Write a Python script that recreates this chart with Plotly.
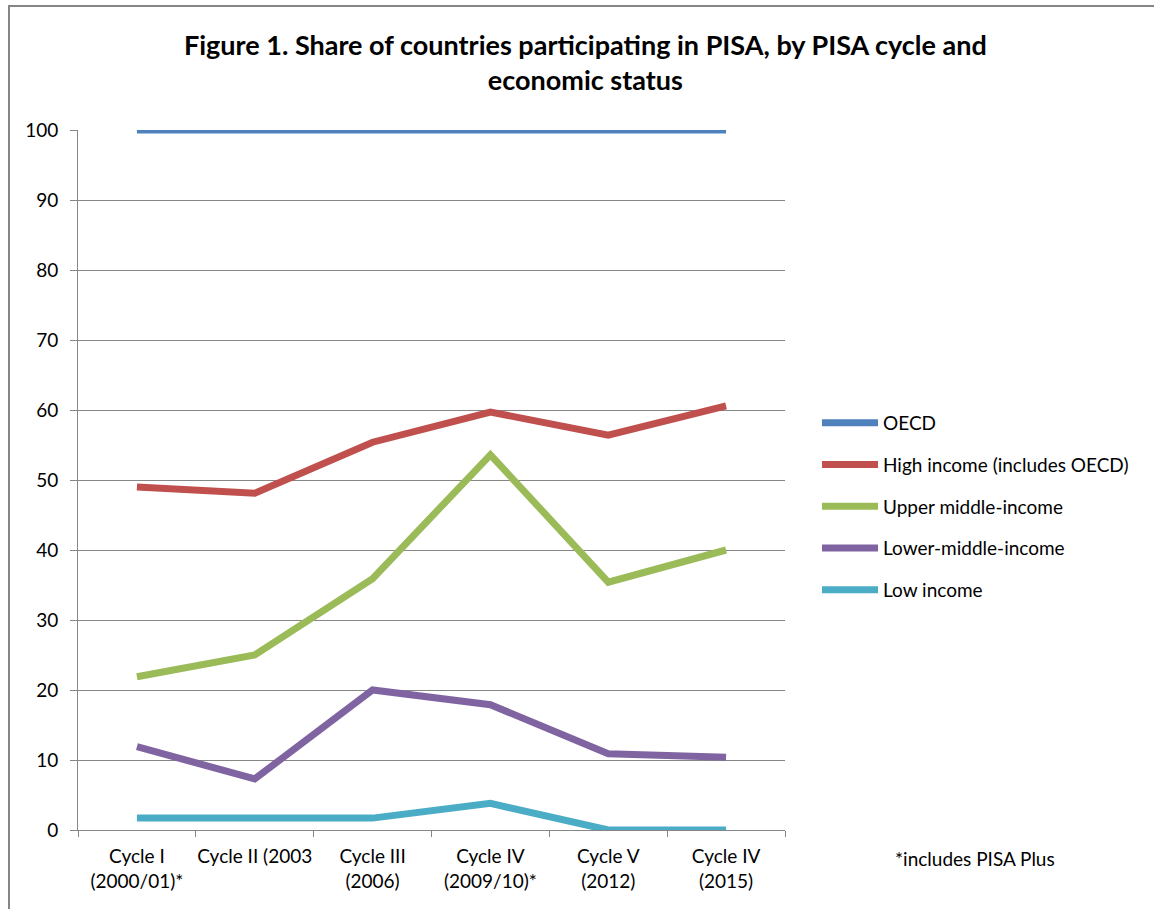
import plotly.graph_objects as go

categories = ["Cycle I<br>(2000/01)*", "Cycle II (2003", "Cycle III<br>(2006)",
              "Cycle IV<br>(2009/10)*", "Cycle V<br>(2012)", "Cycle IV<br>(2015)"]
oecd = [100, 100, 100, 100, 100, 100]
high_income = [49.0, 48.1, 55.4, 59.7, 56.4, 60.6]
upper_middle = [21.9, 25.0, 35.9, 53.6, 35.4, 40.0]
lower_middle = [11.9, 7.3, 20.0, 17.9, 10.9, 10.4]
low_income = [1.7, 1.6, 1.7, 3.8, 0.0, 0.0]

series_names = ["OECD", "High income (includes OECD)", "Upper middle-income",
                "Lower-middle-income", "Low income"]
series_values = [oecd, high_income, upper_middle, lower_middle, low_income]
colors = ["#4F81BD", "#C0504D", "#9BBB59", "#8064A2", "#4BACC6"]

W, H = 1154, 909
L, R, T, B = 78, 785, 130, 830

fig = go.Figure()
for name, vals, col in zip(series_names, series_values, colors):
    fig.add_trace(go.Scatter(
        x=categories, y=vals, name=name, mode="lines",
        line=dict(color=col, width=7), cliponaxis=False, legendgroup=name,
    ))

def px_x(px):
    return (px - L) / (R - L)

def px_y(py):
    return (B - py) / (B - T)

fig.update_layout(
    width=W, height=H,
    margin=dict(l=L, r=W - R, t=T, b=H - B, pad=0, autoexpand=False),
    paper_bgcolor="white", plot_bgcolor="white",
    font=dict(family="Lato, Carlito, Calibri, sans-serif", size=19, color="black"),
    showlegend=True,
    legend=dict(x=px_x(817), y=px_y(404), xanchor="left", yanchor="top",
                font=dict(size=19), tracegroupgap=14, itemwidth=56,
                bgcolor="rgba(0,0,0,0)"),
    xaxis=dict(type="category", range=[-0.5, 5.5], showgrid=False, showline=True,
               linecolor="#868686", linewidth=1, ticks="outside",
               tickson="boundaries", ticklen=6, tickcolor="#868686",
               tickfont=dict(size=19), ticklabelstandoff=9, tickangle=0,
               automargin=False),
    yaxis=dict(range=[0, 100], tickvals=list(range(0, 101, 10)), showgrid=True,
               gridcolor="#868686", gridwidth=1, showline=True, linecolor="#868686",
               linewidth=1, ticks="outside", ticklen=7, tickcolor="#868686",
               tickfont=dict(size=19), zeroline=False, ticklabelstandoff=8,
               automargin=False),
    shapes=[dict(type="rect", xref="paper", yref="paper",
                 x0=px_x(9), x1=px_x(1170), y0=px_y(6), y1=px_y(930),
                 line=dict(color="#868686", width=2), fillcolor="rgba(0,0,0,0)",
                 layer="below")],
    annotations=[
        dict(text="<b>Figure 1. Share of countries participating in PISA, by PISA cycle and<br>economic status</b>",
             xref="paper", yref="paper", x=px_x(585), y=px_y(62), xanchor="center",
             yanchor="middle", showarrow=False, font=dict(size=27), align="center"),
        dict(text="*includes PISA Plus", xref="paper", yref="paper",
             x=px_x(975), y=px_y(858), xanchor="center", yanchor="middle",
             showarrow=False, font=dict(size=19)),
    ],
)

fig.write_html("out.html")
